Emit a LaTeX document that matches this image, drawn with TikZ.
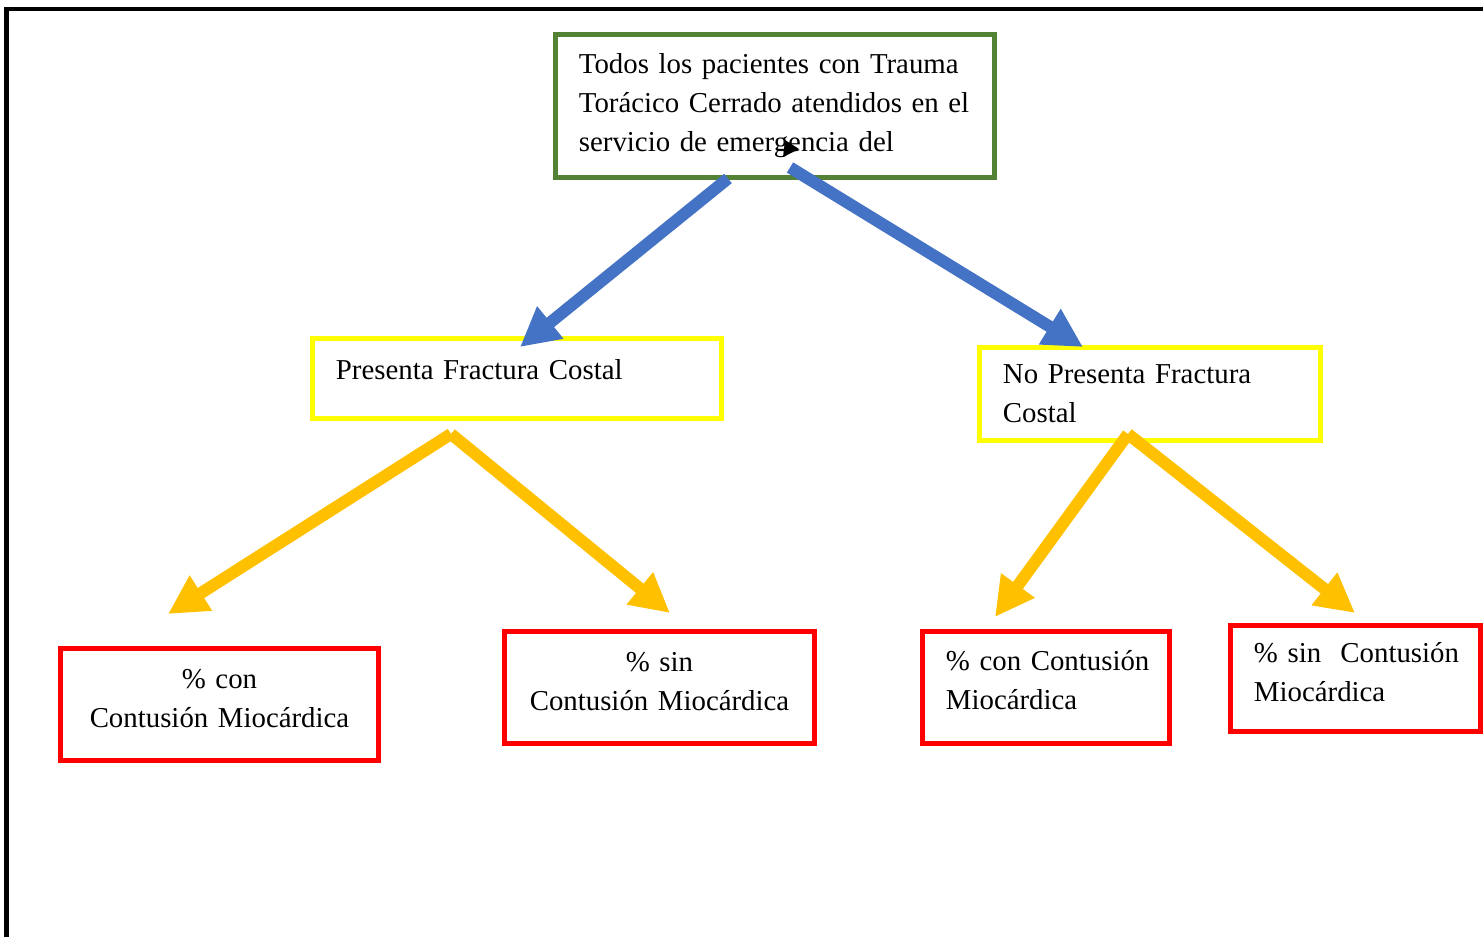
\documentclass[tikz,border=0pt]{standalone}
\usepackage{fontspec}
\setmainfont{Liberation Serif}
\usepackage{xcolor}
\usetikzlibrary{arrows.meta,positioning}
\definecolor{toraxgreen}{HTML}{548235}
\definecolor{toraxyellow}{HTML}{FFFF00}
\definecolor{toraxred}{HTML}{FF0000}
\definecolor{toraxblue}{HTML}{4472C4}
\definecolor{toraxgold}{HTML}{FFC000}
\newcommand{\cajafont}{\fontsize{8.2}{11.1}\selectfont
  \hyphenpenalty=10000\relax\exhyphenpenalty=10000\relax}

\begin{document}
\begin{tikzpicture}[
    x=0.01cm,y=-0.01cm,
    caja/.style      = {rectangle, draw, line width=0.05cm, align=left,
                        inner xsep=0.23cm, inner ysep=0pt, font=\cajafont},
    cajar/.style     = {caja, draw=toraxred, text depth=0.51cm},
    cajac/.style     = {cajar, align=center, inner xsep=0.1cm},
    flechaazul/.style = {-{Triangle[length=0.39cm,width=0.39cm]},
                        toraxblue, line width=0.12cm},
    flechaoro/.style  = {-{Triangle[length=0.39cm,width=0.39cm]},
                        toraxgold, line width=0.12cm},
  ]

  \useasboundingbox (0,0) rectangle (1483,937);
  \draw[line width=0.04cm] (6.5,937) -- (6.5,9.5) -- (1483,9.5);

  % nivel 1
  \node[caja, draw=toraxgreen, minimum width=4.385cm, minimum height=1.425cm,
        text width=3.925cm] (todos) at (775.25,105.75)
       {Todos~los~pacientes~con~Trauma\\Torácico~Cerrado~atendidos~en~el\\servicio~de~emergencia~del};

  % nivel 2
  \node[caja, draw=toraxyellow, minimum width=4.08cm, minimum height=0.79cm,
        text width=3.62cm, text depth=0.18cm] (confx) at (517,378.5)
       {Presenta~Fractura~Costal};
  \node[caja, draw=toraxyellow, minimum width=3.40cm, minimum height=0.92cm,
        text width=2.94cm] (sinfx) at (1150,394)
       {No~Presenta~Fractura\\Costal};

  % nivel 3
  \node[cajac, minimum width=3.17cm, minimum height=1.11cm,
        text width=2.97cm] (fxcon) at (219.5,704.5)
       {\% con\\Contusión~Miocárdica};
  \node[cajac, minimum width=3.09cm, minimum height=1.11cm,
        text width=2.89cm] (fxsin) at (659.5,687.5)
       {\% sin\\Contusión~Miocárdica};
  \node[cajar, minimum width=2.46cm, minimum height=1.11cm,
        text width=2.0cm, text depth=0.55cm] (nfxcon) at (1046,687.5)
       {\%~con~Contusión\\Miocárdica};
  \node[cajar, minimum width=2.495cm, minimum height=1.055cm,
        text width=2.035cm] (nfxsin) at (1355.75,678.25)
       {\%~sin~~Contusión\\Miocárdica};

  \coordinate (a1) at (728,178.5);  \coordinate (a1t) at (520,347);
  \coordinate (a2) at (790,167.5);  \coordinate (a2t) at (1083,347);
  \coordinate (b0) at (451,434);
  \coordinate (b1) at (168,614);    \coordinate (b2) at (670,613);
  \coordinate (c0) at (1128,434);
  \coordinate (c1) at (995,617);    \coordinate (c2) at (1355,613);

  \draw[flechaazul] (a1) -- (a1t);
  \draw[flechaazul] (a2) -- (a2t);
  \foreach \t in {b1,b2} \draw[flechaoro] (b0) -- (\t);
  \foreach \t in {c1,c2} \draw[flechaoro] (c0) -- (\t);

  \fill (785,140) -- (799,149) -- (783,157) -- cycle;

\end{tikzpicture}
\end{document}
